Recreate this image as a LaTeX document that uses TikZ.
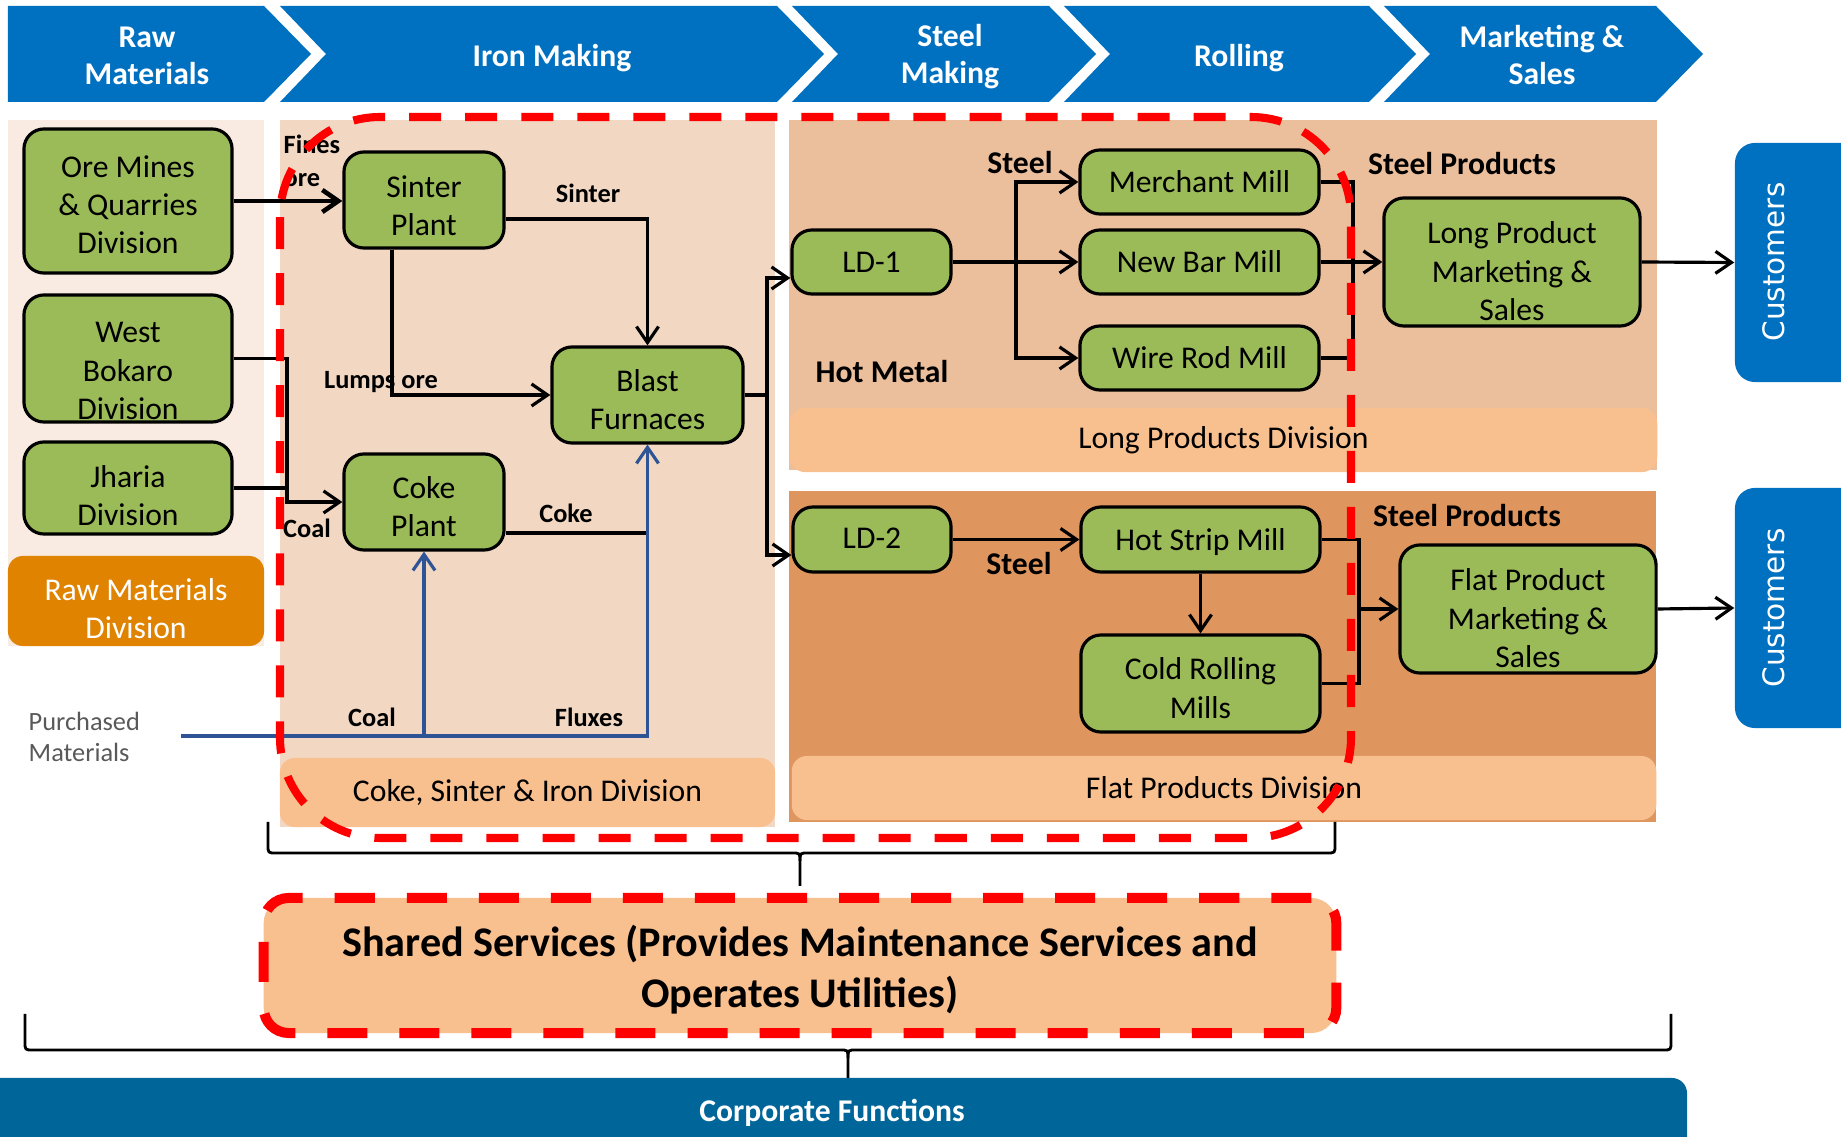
\documentclass[tikz,border=0pt]{standalone}
\usepackage{fontspec}
\setmainfont{Carlito}
\newfontfamily\custfont{DejaVu Sans}
\usetikzlibrary{arrows.meta}

\definecolor{stageblue}{HTML}{0070C0}
\definecolor{unitgreen}{HTML}{9BBB59}
\definecolor{rawbg}{HTML}{F9EBE2}
\definecolor{ironbg}{HTML}{F2D8C3}
\definecolor{longbg}{HTML}{EBBE9C}
\definecolor{flatbg}{HTML}{DF955E}
\definecolor{divorange}{HTML}{F8BF8F}
\definecolor{rawdiv}{HTML}{DF8300}
\definecolor{corpblue}{HTML}{006699}
\definecolor{feedblue}{HTML}{2F5496}
\definecolor{buygray}{HTML}{595959}

% lines of a box, set a little lower than centre
\newcommand{\lowlines}[2][0cm]{\raisebox{-#1}[\height][\depth]{\begin{tabular}{@{}c@{}}#2\end{tabular}}}

\begin{document}
\begin{tikzpicture}[x=0.01cm,y=-0.01cm]
\tikzstyle{unit}=[draw=black,line width=0.9pt,fill=unitgreen,rounded corners=0.2cm,align=center,inner sep=0pt,font=\fontsize{9}{10.9}\selectfont]
\tikzstyle{link}=[draw,line width=0.9pt]
\tikzstyle{flow}=[link,-{Straight Barb[length=0.16cm,width=0.22cm]}]
\tikzstyle{feed}=[flow,draw=feedblue]
\tikzstyle{tag}=[inner sep=0pt,font=\bfseries\fontsize{7.5}{9.4}\selectfont]
\tikzstyle{bigtag}=[inner sep=0pt,font=\bfseries\fontsize{9}{10.9}\selectfont]
\tikzstyle{divtag}=[fill=divorange,rounded corners=0.15cm,inner sep=0pt,align=center,font=\fontsize{9}{10.9}\selectfont]
\tikzstyle{stagetext}=[text=white,align=center,inner sep=0pt,font=\bfseries\fontsize{9}{10.5}\selectfont]
\tikzstyle{redloop}=[draw=red,line width=2.3pt,dash pattern=on 0.32cm off 0.24cm]

\clip (0,0) rectangle (1841,1137);

%% Value chain stages
\fill[stageblue] (8,6) -- (264,6) -- (311,54) -- (264,102) -- (8,102) -- cycle;
\foreach \l/\r in {280/777,792/1049,1064/1369,1384/1656}
  \fill[stageblue] (\l,6) -- (\r,6) -- (\r+47,54) -- (\r,102) -- (\l,102) -- (\l+46,54) -- cycle;
\node[stagetext] (rawstage) at (147,56) {Raw\\Materials};
\node[stagetext] (ironstage) at (552,58) {Iron Making};
\node[stagetext] (steelstage) at (950,57) {Steel\\Making};
\node[stagetext] (rollstage) at (1239,58) {Rolling};
\node[stagetext] (salesstage) at (1542,55) {Marketing \&\\Sales};

%% Division panels
\fill[rawbg] (8,120) rectangle (264,646);
\fill[ironbg] (280,120) rectangle (775,827);
\fill[longbg] (789,120) rectangle (1657,470);
\fill[flatbg] (789,491) rectangle (1656,822);
\node[divtag,fill=rawdiv,text=white,minimum width=2.56cm,minimum height=0.9cm] (rawdivision) at (136,601) {\lowlines[0.11cm]{Raw Materials\\Division}};
\node[divtag,minimum width=4.95cm,minimum height=0.69cm] (irondivision) at (527.5,792.5) {Coke, Sinter \& Iron Division};
\node[divtag,minimum width=8.67cm,minimum height=0.64cm] (longdivision) at (1223.5,440) {Long Products Division};
\node[divtag,minimum width=8.64cm,minimum height=0.64cm] (flatdivision) at (1224,788) {Flat Products Division};

%% Units
\node[unit,minimum width=2.08cm,minimum height=1.44cm] (ore) at (128,201) {\lowlines[0.07cm]{Ore Mines\\\& Quarries\\Division}};
\node[unit,minimum width=2.08cm,minimum height=1.27cm] (bokaro) at (128,358.5) {\lowlines[0.15cm]{West\\Bokaro\\Division}};
\node[unit,minimum width=2.08cm,minimum height=0.92cm] (jharia) at (128,488) {\lowlines[0.11cm]{Jharia\\Division}};
\node[unit,minimum width=1.6cm,minimum height=0.96cm] (sinter) at (424,200) {\lowlines[0.09cm]{Sinter\\Plant}};
\node[unit,minimum width=1.91cm,minimum height=0.96cm] (blast) at (647.5,395) {\lowlines[0.08cm]{Blast\\Furnaces}};
\node[unit,minimum width=1.6cm,minimum height=0.96cm] (coke) at (424,502) {\lowlines[0.08cm]{Coke\\Plant}};
\node[unit,minimum width=1.59cm,minimum height=0.64cm] (ld1) at (871.5,262) {LD-1};
\node[unit,minimum width=2.39cm,minimum height=0.64cm] (merchant) at (1199.5,182) {Merchant Mill};
\node[unit,minimum width=2.39cm,minimum height=0.64cm] (newbar) at (1199.5,262) {New Bar Mill};
\node[unit,minimum width=2.39cm,minimum height=0.64cm] (wirerod) at (1199.5,358) {Wire Rod Mill};
\node[unit,minimum width=2.56cm,minimum height=1.28cm] (longsales) at (1512,262) {\lowlines[0.125cm]{Long Product\\Marketing \&\\Sales}};
\node[unit,minimum width=1.58cm,minimum height=0.65cm] (ld2) at (872,539.5) {\lowlines[0.01cm]{LD-2}};
\node[unit,minimum width=2.39cm,minimum height=0.65cm] (hotstrip) at (1200.5,539.5) {\lowlines[0.035cm]{Hot Strip Mill}};
\node[unit,minimum width=2.39cm,minimum height=0.97cm] (coldroll) at (1200.5,683.5) {\lowlines[0.08cm]{Cold Rolling\\Mills}};
\node[unit,minimum width=2.56cm,minimum height=1.28cm] (flatsales) at (1528,609) {\lowlines[0.125cm]{Flat Product\\Marketing \&\\Sales}};

%% Customers
\node[fill=stageblue,rounded corners=0.2cm,minimum width=1.4cm,minimum height=2.39cm,inner sep=0pt] (custA) at (1805,262.5) {};
\node[rotate=90,text=white,inner sep=0pt,font=\custfont\fontsize{8.4}{10}\selectfont] (custAtext) at (1774,262) {Customers};
\node[fill=stageblue,rounded corners=0.2cm,minimum width=1.4cm,minimum height=2.4cm,inner sep=0pt] (custB) at (1805,608) {};
\node[rotate=90,text=white,inner sep=0pt,font=\custfont\fontsize{8.4}{10}\selectfont] (custBtext) at (1774,608) {Customers};

%% Iron making flows
\coordinate (coalbus) at (287,0);
\coordinate (hmbus) at (767,0);
\coordinate (buy) at (181,736);
\draw[flow,line width=1.3pt] (ore.east) -- (ore.east -| sinter.west);
\draw[flow] ([yshift=-0.19cm]sinter.east) -| (blast.north);
\draw[flow] ([xshift=-0.32cm]sinter.south) |- (blast.west);
\draw[flow] (bokaro.east) -- (bokaro.east -| coalbus) |- (coke.west);
\draw[link] (jharia.east) -- (jharia.east -| coalbus);
\draw[link] ([yshift=-0.31cm]coke.east) -- ([yshift=-0.31cm]coke.east -| blast.south);
\draw[feed] (buy) -| (blast.south);
\draw[feed] (buy -| coke.south) -- (coke.south);
\node[anchor=west,align=left,text=buygray,inner sep=0pt,font=\fontsize{7.5}{8.9}\selectfont] (purchased) at (28,737) {Purchased\\Materials};

\node[tag,anchor=west,align=left] (finestag) at (283,161) {Fines\\ore};
\node[tag] (sintertag) at (588,193) {Sinter};
\node[tag] (lumpstag) at (381,382) {Lumps ore};
\node[tag] (coaltag) at (307,528) {Coal};
\node[tag] (coketag) at (566,513) {Coke};
\node[tag] (buycoaltag) at (372,717) {Coal};
\node[tag] (fluxtag) at (589,717) {Fluxes};

%% Steel making and rolling flows
\coordinate (steelbus) at (1016,0);
\coordinate (longbus) at (1353,0);
\coordinate (flatbus) at (1359,0);
\draw[link] (blast.east) -- (blast.east -| hmbus);
\draw[flow] (blast.east -| hmbus) |- ([yshift=-0.16cm]ld1.west);
\draw[flow] (blast.east -| hmbus) |- ([yshift=-0.155cm]ld2.west);
\draw[flow] (ld1.east) -- (newbar.west);
\draw[flow] (ld1.east -| steelbus) |- (merchant.west);
\draw[flow] (ld1.east -| steelbus) |- (wirerod.west);
\draw[link] (merchant.east) -| (wirerod.east -| longbus) -- (wirerod.east);
\draw[flow] (newbar.east) -- (longsales.west);
\draw[flow] (ld2.east) -- (hotstrip.west);
\draw[flow] (hotstrip.south) -- (coldroll.north);
\draw[link] (hotstrip.east) -| (coldroll.east -| flatbus) -- (coldroll.east);
\draw[flow] (flatsales.west -| flatbus) -- (flatsales.west);
\draw[flow] (longsales.east) -- (custA.west);
\draw[flow] (flatsales.east) -- (custB.west);

\node[bigtag] (steeltagA) at (1020,163) {Steel};
\node[bigtag] (hotmetaltag) at (882,372) {Hot Metal};
\node[bigtag] (productstagA) at (1462,164) {Steel Products};
\node[bigtag] (steeltagB) at (1019,564) {Steel};
\node[bigtag] (productstagB) at (1467,516) {Steel Products};

%% Shared services and corporate
\draw[line width=0.8pt] (268,822) -- (268,845) .. controls (268,853) .. (276,853) -- (792,853) .. controls (800,853) .. (800,861) -- (800,886);
\draw[line width=0.8pt] (1335,822) -- (1335,845) .. controls (1335,853) .. (1327,853) -- (808,853) .. controls (800,853) .. (800,861);
\node[fill=divorange,draw=red,line width=2.85pt,dash pattern=on 0.4cm off 0.32cm,rounded corners=0.25cm,minimum width=10.72cm,minimum height=1.35cm,align=center,font=\bfseries\fontsize{12}{14.5}\selectfont] (shared) at (800,965.5) {\lowlines[0.06cm]{Shared Services (Provides Maintenance Services and\\Operates Utilities)}};
\draw[line width=0.8pt] (25,1014) -- (25,1042) .. controls (25,1050) .. (33,1050) -- (840,1050) .. controls (848,1050) .. (848,1058) -- (848,1078);
\draw[line width=0.8pt] (1671,1014) -- (1671,1042) .. controls (1671,1050) .. (1663,1050) -- (856,1050) .. controls (848,1050) .. (848,1058);
\fill[corpblue,rounded corners=0.15cm] (-30,1078) rectangle (1687,1180);
\node[stagetext] (corporate) at (832,1113) {Corporate Functions};

%% Red boundary
\draw[redloop,rounded corners=1cm] (280,117) rectangle (1351,838);
\end{tikzpicture}
\end{document}
